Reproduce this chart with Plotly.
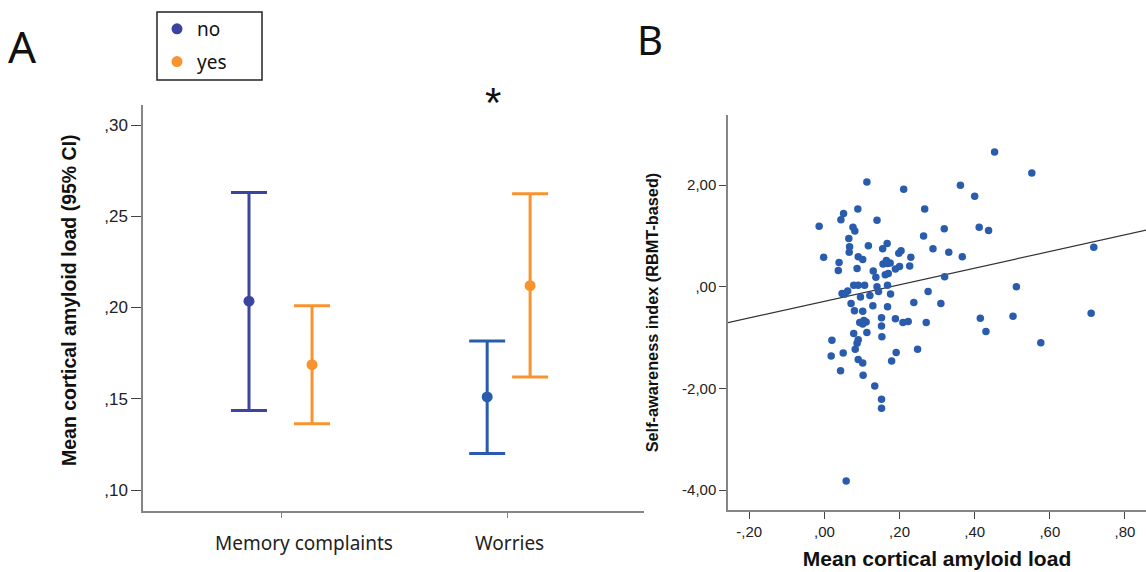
import plotly.graph_objects as go

# ---------------- Panel A data ----------------
categories = ["Memory complaints", "Worries"]
mean_no = [0.2035, 0.151]
lo_no = [0.1436, 0.120]
hi_no = [0.263, 0.1817]
mean_yes = [0.1687, 0.212]
lo_yes = [0.1363, 0.162]
hi_yes = [0.201, 0.2623]
a_yticks = [0.10, 0.15, 0.20, 0.25, 0.30]
a_yticktext = [",10", ",15", ",20", ",25", ",30"]

# ---------------- Panel B data ----------------
amyloid = [
    0.113, 0.211, 0.362, 0.400, -0.014, 0.051, 0.044, 0.089, 0.140, 0.267,
    0.319, 0.412, 0.076, 0.081, 0.065, 0.264, -0.002, 0.067, 0.066, 0.117,
    0.167, 0.155, 0.289, 0.331, 0.367, 0.039, 0.037, 0.090, 0.102, 0.087,
    0.130, 0.137, 0.156, 0.165, 0.168, 0.175, 0.162, 0.170, 0.189, 0.200,
    0.198, 0.204, 0.227, 0.230, 0.320, 0.078, 0.090, 0.107, 0.140, 0.144,
    0.168, 0.047, 0.055, 0.062, 0.096, 0.121, 0.176, 0.276, 0.071, 0.129,
    0.168, 0.238, 0.310, 0.080, 0.102, 0.094, 0.105, 0.111, 0.102, 0.152,
    0.152, 0.189, 0.209, 0.223, 0.271, 0.078, 0.113, 0.153, 0.020, 0.090,
    0.087, 0.082, 0.248, 0.018, 0.050, 0.191, 0.090, 0.102, 0.179, 0.043,
    0.103, 0.134, 0.152, 0.152, 0.058, 0.415, 0.453, 0.552, 0.437, 0.511,
    0.717, 0.502, 0.430, 0.710, 0.576,
]
awareness = [
    2.06, 1.92, 2.00, 1.78, 1.19, 1.44, 1.32, 1.53, 1.31, 1.53,
    1.14, 1.17, 1.17, 1.10, 0.95, 1.00, 0.58, 0.79, 0.68, 0.81,
    0.85, 0.75, 0.75, 0.68, 0.59, 0.48, 0.32, 0.59, 0.54, 0.36,
    0.31, 0.19, 0.45, 0.52, 0.46, 0.47, 0.24, 0.26, 0.35, 0.40,
    0.66, 0.71, 0.41, 0.58, 0.20, 0.03, 0.03, 0.03, 0.00, -0.09,
    0.03, -0.13, -0.14, -0.08, -0.20, -0.17, -0.14, -0.09, -0.33, -0.37,
    -0.39, -0.31, -0.33, -0.47, -0.48, -0.70, -0.66, -0.69, -0.73, -0.61,
    -0.77, -0.63, -0.70, -0.68, -0.70, -0.92, -0.90, -0.98, -1.05, -1.04,
    -1.11, -1.23, -1.23, -1.36, -1.30, -1.29, -1.43, -1.50, -1.46, -1.65,
    -1.74, -1.95, -2.21, -2.39, -3.82, -0.62, 2.65, 2.24, 1.11, 0.00,
    0.78, -0.58, -0.88, -0.52, -1.10,
]
fit_x = [-0.26, 0.86]
fit_y = [-0.71, 1.12]
b_xticks = [-0.2, 0.0, 0.2, 0.4, 0.6, 0.8]
b_xticktext = ["-,20", ",00", ",20", ",40", ",60", ",80"]
b_yticks = [-4, -2, 0, 2]
b_yticktext = ["-4,00", "-2,00", ",00", "2,00"]

# ---------------- styling / layout constants ----------------
cat_pos = [0, 1]
label_shift = [0.10, 0.01]
dodge_no = [-0.142, -0.088]
dodge_yes = [0.137, 0.102]
col_no = ["#3b45a0", "#2a5cae"]
col_yes = "#f7942f"
legend_no_col = "#3b42a0"
dot_col = "#2a5cad"
axis_col = "#858585"
sans = "Liberation Sans, Arial, sans-serif"
myriad = "Noto Sans, Open Sans, sans-serif"

fig = go.Figure()

for i, cat in enumerate(categories):
    fig.add_trace(go.Scatter(
        x=[cat_pos[i] + dodge_no[i]], y=[mean_no[i]],
        mode="markers", name="no", showlegend=False,
        marker=dict(color=col_no[i], size=11),
        error_y=dict(type="data", symmetric=False,
                     array=[hi_no[i] - mean_no[i]],
                     arrayminus=[mean_no[i] - lo_no[i]],
                     color=col_no[i], thickness=3, width=18),
        xaxis="x", yaxis="y",
    ))
    fig.add_trace(go.Scatter(
        x=[cat_pos[i] + dodge_yes[i]], y=[mean_yes[i]],
        mode="markers", name="yes", showlegend=False,
        marker=dict(color=col_yes, size=11),
        error_y=dict(type="data", symmetric=False,
                     array=[hi_yes[i] - mean_yes[i]],
                     arrayminus=[mean_yes[i] - lo_yes[i]],
                     color=col_yes, thickness=3, width=18),
        xaxis="x", yaxis="y",
    ))

# legend entries
fig.add_trace(go.Scatter(x=[None], y=[None], mode="markers", name="no",
                         legendgroup="no",
                         marker=dict(color=legend_no_col, size=11),
                         xaxis="x", yaxis="y", showlegend=True))
fig.add_trace(go.Scatter(x=[None], y=[None], mode="markers", name="yes",
                         legendgroup="yes",
                         marker=dict(color=col_yes, size=11),
                         xaxis="x", yaxis="y", showlegend=True))

# Panel B
fig.add_trace(go.Scatter(x=fit_x, y=fit_y, mode="lines",
                         line=dict(color="#333333", width=1.2),
                         xaxis="x2", yaxis="y2", showlegend=False))
fig.add_trace(go.Scatter(x=amyloid, y=awareness, mode="markers",
                         marker=dict(color=dot_col, size=7.5),
                         xaxis="x2", yaxis="y2", showlegend=False))

W, H = 1146, 572

annotations = [
    dict(text="A", x=22 / W, y=1 - 46 / H, xref="paper", yref="paper",
         showarrow=False, font=dict(family=myriad, size=44, color="#111111"),
         xanchor="center", yanchor="middle"),
    dict(text="B", x=650 / W, y=1 - 40 / H, xref="paper", yref="paper",
         showarrow=False, font=dict(family=myriad, size=40, color="#111111"),
         xanchor="center", yanchor="middle"),
    dict(text="*", x=493 / W, y=1 - 102 / H, xref="paper", yref="paper",
         showarrow=False, font=dict(family=sans, size=42, color="#111111"),
         xanchor="center", yanchor="middle"),
    dict(text="<b>Mean cortical amyloid load (95% CI)</b>",
         x=69 / W, y=1 - 300 / H, xref="paper", yref="paper",
         showarrow=False, textangle=-90,
         font=dict(family=sans, size=19.5, color="#111111"),
         xanchor="center", yanchor="middle"),
]
for i, cat in enumerate(categories):
    annotations.append(dict(
        text=cat, x=cat_pos[i] + label_shift[i], y=1 - 543 / H,
        xref="x", yref="paper", showarrow=False,
        font=dict(family=myriad, size=19, color="#222222"),
        xanchor="center", yanchor="middle"))

shapes = [
    dict(type="rect", xref="paper", yref="paper",
         x0=157 / W, x1=262 / W, y0=1 - 80 / H, y1=1 - 12 / H,
         line=dict(color="#222222", width=1.5), fillcolor="rgba(0,0,0,0)"),
]

fig.update_layout(
    width=W, height=H,
    margin=dict(l=0, r=0, t=0, b=0),
    paper_bgcolor="white", plot_bgcolor="white",
    font=dict(family=sans, color="#222222"),
    showlegend=True,
    legend=dict(x=157 / W, y=1 - 10 / H, xanchor="left", yanchor="top",
                borderwidth=0, bgcolor="rgba(0,0,0,0)",
                font=dict(family=myriad, size=19, color="#111111"),
                itemwidth=30, tracegroupgap=5),
    shapes=shapes,
    xaxis=dict(domain=[143 / W, 644 / W], range=[-0.611, 1.606],
               tickvals=cat_pos, showticklabels=False,
               showline=True, linecolor=axis_col, linewidth=1.5,
               ticks="outside", ticklen=5, tickcolor=axis_col,
               showgrid=False, zeroline=False, anchor="y"),
    yaxis=dict(domain=[1 - 511 / H, 1 - 105 / H], range=[0.0885, 0.311],
               tickvals=a_yticks, ticktext=a_yticktext,
               showline=True, linecolor=axis_col, linewidth=1.5,
               ticks="outside", ticklen=10, tickcolor="#444444",
               showgrid=False, zeroline=False,
               tickfont=dict(family=sans, size=17, color="#222222"),
               anchor="x"),
    xaxis2=dict(domain=[728 / W, 1.0], range=[-0.2566, 0.856],
                tickvals=b_xticks, ticktext=b_xticktext,
                showline=True, linecolor=axis_col, linewidth=1.5,
                ticks="outside", ticklen=7, tickcolor="#444444",
                showgrid=False, zeroline=False,
                tickfont=dict(family=sans, size=15, color="#222222"),
                title=dict(text="<b>Mean cortical amyloid load</b>",
                           font=dict(family=sans, size=21, color="#111111"),
                           standoff=13),
                anchor="y2"),
    yaxis2=dict(domain=[1 - 510 / H, 1 - 115 / H], range=[-4.39, 3.38],
                tickvals=b_yticks, ticktext=b_yticktext,
                showline=True, linecolor=axis_col, linewidth=1.5,
                ticks="outside", ticklen=7, tickcolor="#444444",
                showgrid=False, zeroline=False,
                tickfont=dict(family=sans, size=15, color="#222222"),
                title=dict(text="<b>Self-awareness index (RBMT-based)</b>",
                           font=dict(family=sans, size=16.3, color="#111111"),
                           standoff=19),
                anchor="x2"),
    annotations=annotations,
)

fig.write_html("out.html",
               config={"displayModeBar": False},
               post_script="document.body.style.margin='0';document.body.style.overflow='hidden';")
